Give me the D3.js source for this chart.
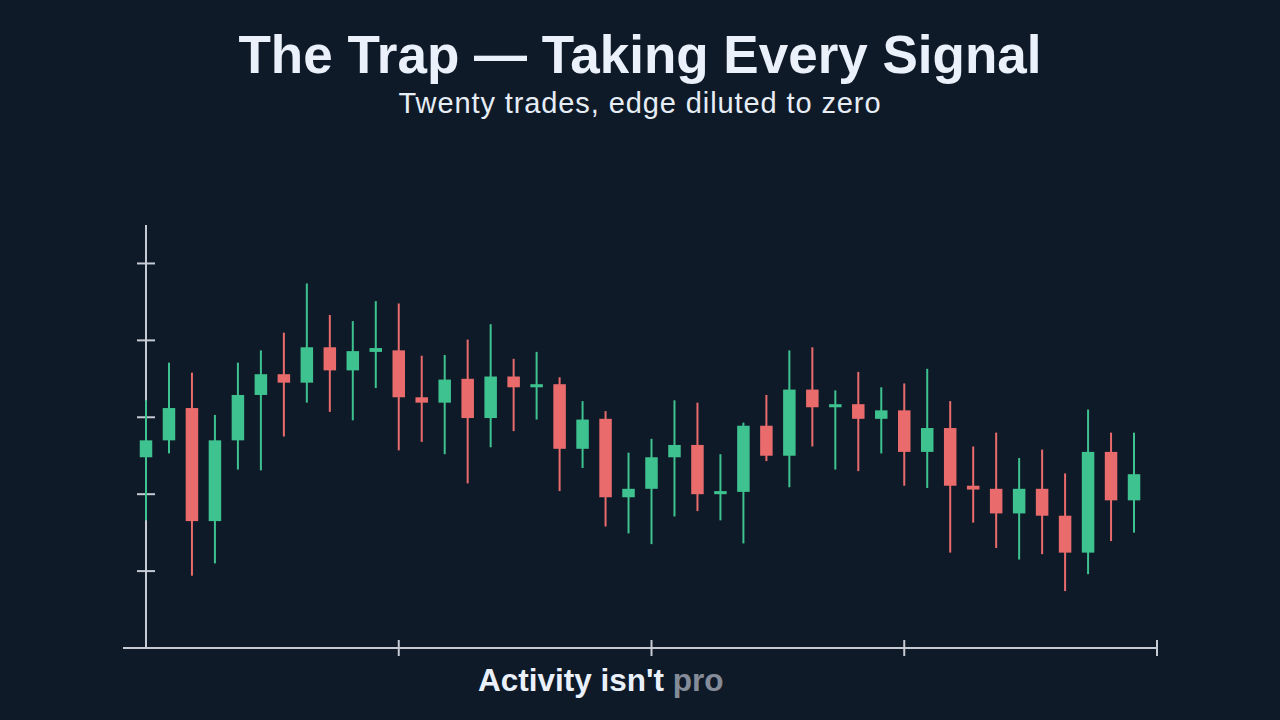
<!DOCTYPE html>
<html>
<head>
<meta charset="utf-8">
<script src="https://cdn.jsdelivr.net/npm/d3@7"></script>
<style>
  html, body { margin: 0; padding: 0; background: #0f1a29; }
  svg { display: block; }
</style>
</head>
<body>
<div id="chart"></div>
<script>
// Candle data (price units = y tick steps)
const opens  = [2.48, 2.70, 3.12, 1.65, 2.70, 3.29, 3.56, 3.45, 3.91, 3.61, 3.85,
                3.87, 3.26, 3.19, 3.50, 2.99, 3.53, 3.39, 3.43, 2.59, 2.98, 1.96,
                2.07, 2.48, 2.64, 2.00, 2.03, 2.89, 2.50, 3.36, 3.13, 3.17, 2.98,
                3.09, 2.55, 2.86, 2.11, 2.07, 1.75, 2.07, 1.72, 1.24, 2.55, 1.92];
const closes = [2.70, 3.12, 1.65, 2.70, 3.29, 3.56, 3.45, 3.91, 3.61, 3.86, 3.90,
                3.26, 3.19, 3.49, 2.99, 3.53, 3.39, 3.43, 2.59, 2.97, 1.96, 2.07,
                2.48, 2.64, 2.00, 2.04, 2.89, 2.50, 3.36, 3.13, 3.17, 2.98, 3.09,
                2.55, 2.86, 2.11, 2.06, 1.75, 2.07, 1.72, 1.24, 2.55, 1.92, 2.26];
const highs  = [3.22, 3.71, 3.58, 3.03, 3.71, 3.87, 4.10, 4.74, 4.33, 4.25, 4.51,
                4.48, 3.80, 3.81, 4.01, 4.21, 3.76, 3.85, 3.52, 3.21, 3.08, 2.54,
                2.72, 3.22, 3.19, 2.52, 2.93, 3.29, 3.87, 3.91, 3.35, 3.59, 3.39,
                3.44, 3.63, 3.21, 2.62, 2.80, 2.47, 2.58, 2.27, 3.10, 2.80, 2.80];
const lows   = [1.66, 2.53, 0.94, 1.10, 2.32, 2.31, 2.75, 3.19, 3.07, 2.96, 3.38,
                2.57, 2.68, 2.52, 2.14, 2.61, 2.82, 2.97, 2.04, 2.34, 1.58, 1.49,
                1.35, 1.71, 1.78, 1.66, 1.36, 2.43, 2.09, 2.62, 2.32, 2.30, 2.53,
                2.11, 2.08, 1.24, 1.63, 1.30, 1.15, 1.22, 0.74, 0.96, 1.39, 1.50];
const yTicks = [1, 2, 3, 4, 5];
const xTicks = [0, 11, 22, 33, 44];

const W = 1280, H = 720;
const bg = "#0f1a29";
const up = "#3ec28f", down = "#e96b6b", axisColor = "#c5cad3";

const svg = d3.select("#chart").append("svg")
  .attr("width", W).attr("height", H);

svg.append("rect").attr("width", W).attr("height", H).attr("fill", bg);

// Title & subtitle
svg.append("text")
  .attr("x", 640).attr("y", 73)
  .attr("text-anchor", "middle")
  .attr("fill", "#eaf1fa")
  .style("font-family", "'Liberation Sans', Arial, sans-serif")
  .style("font-weight", "bold")
  .style("font-size", "53px")
  .text("The Trap \u2014 Taking Every Signal");

svg.append("text")
  .attr("x", 640).attr("y", 113)
  .attr("text-anchor", "middle")
  .attr("fill", "#e6edf5")
  .style("font-family", "'Liberation Sans', Arial, sans-serif")
  .style("font-size", "29px")
  .style("letter-spacing", "0.9px")
  .text("Twenty trades, edge diluted to zero");

// Scales
const x = d3.scaleLinear().domain([0, 44]).range([146, 1157]);
const y = d3.scaleLinear().domain([0, 5.5]).range([648, 225]);

const data = opens.map((o, i) => ({
  i, open: o, close: closes[i], high: highs[i], low: lows[i]
}));

// Axes
const axisG = svg.append("g");
axisG.append("line")
  .attr("x1", x(0)).attr("x2", x(0))
  .attr("y1", y(5.5)).attr("y2", y(0))
  .attr("stroke", axisColor).attr("stroke-width", 2);
axisG.append("line")
  .attr("x1", 123).attr("x2", x(44))
  .attr("y1", y(0)).attr("y2", y(0))
  .attr("stroke", axisColor).attr("stroke-width", 2);

axisG.selectAll(".ytick").data(yTicks).enter().append("line")
  .attr("x1", x(0) - 9).attr("x2", x(0) + 9)
  .attr("y1", d => y(d)).attr("y2", d => y(d))
  .attr("stroke", axisColor).attr("stroke-width", 2);

axisG.selectAll(".xtick").data(xTicks.slice(1)).enter().append("line")
  .attr("x1", d => x(d)).attr("x2", d => x(d))
  .attr("y1", y(0) - 8).attr("y2", y(0) + 8)
  .attr("stroke", axisColor).attr("stroke-width", 2);

// Candles
const bodyW = 12.5;
const candles = svg.append("g").selectAll("g").data(data).enter().append("g");

candles.append("line")
  .attr("x1", d => x(d.i)).attr("x2", d => x(d.i))
  .attr("y1", d => y(d.high)).attr("y2", d => y(d.low))
  .attr("stroke", d => d.close >= d.open ? up : down)
  .attr("stroke-width", 2);

candles.append("rect")
  .attr("x", d => x(d.i) - bodyW / 2)
  .attr("width", bodyW)
  .attr("y", d => y(Math.max(d.open, d.close)))
  .attr("height", d => Math.max(3, Math.abs(y(d.open) - y(d.close))))
  .attr("fill", d => d.close >= d.open ? up : down);

// Caption (typing in)
const cap = svg.append("text")
  .attr("x", 478).attr("y", 691)
  .attr("fill", "#eaf1fa")
  .style("font-family", "'Liberation Sans', Arial, sans-serif")
  .style("font-weight", "bold")
  .style("font-size", "31.5px");
cap.append("tspan").text("Activity isn't ");
cap.append("tspan").attr("fill-opacity", 0.55).text("pro");
</script>
</body>
</html>
